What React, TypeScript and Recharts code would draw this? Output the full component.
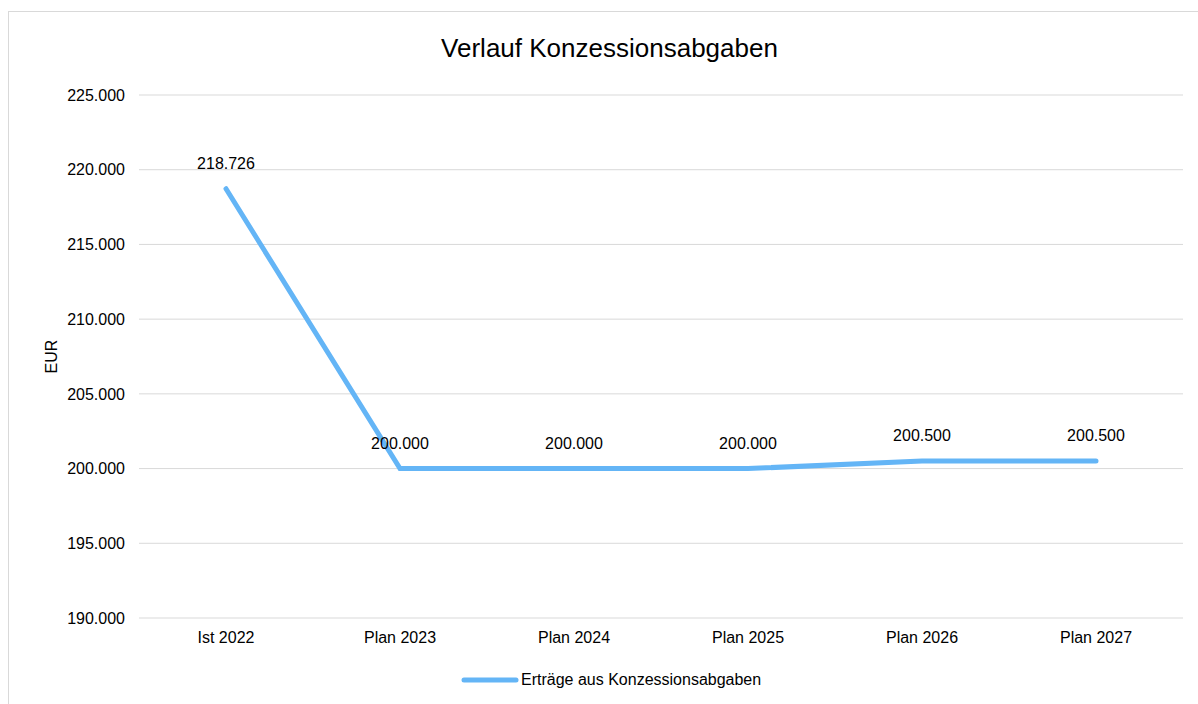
import {CartesianGrid, LabelList, Legend, Line, LineChart, XAxis, YAxis} from "recharts";

const categories = ["Ist 2022", "Plan 2023", "Plan 2024", "Plan 2025", "Plan 2026", "Plan 2027"];
const ertraege = [218726, 200000, 200000, 200000, 200500, 200500];
const yTicks = [190000, 195000, 200000, 205000, 210000, 215000, 220000, 225000];

const seriesName = "Erträge aus Konzessionsabgaben";
const lineColor = "#64B5F6";
const font = "'Liberation Sans', Arial, sans-serif";

const data = categories.map((cat, i) => ({cat, value: ertraege[i]}));

const fmt = (v: number) => Number(v).toLocaleString("de-DE");

const EurLabel = (props: any) => {
    const vb = props.viewBox || {};
    const cx = 42;
    const cy = (vb.y || 0) + (vb.height || 0) / 2;
    return (
        <text x={cx} y={cy} transform={`rotate(-90, ${cx}, ${cy})`} textAnchor="middle"
              dominantBaseline="central" fontSize={16} fontFamily={font} fill="#000">
            EUR
        </text>
    );
};

const LegendContent = (props: any) => {
    const items = props.payload || [];
    return (
        <div style={{display: "flex", alignItems: "center", height: 20, fontFamily: font, fontSize: 16, color: "#000"}}>
            {items.map((it: any) => (
                <div key={it.value} style={{display: "flex", alignItems: "center"}}>
                    <svg width={60} height={20}>
                        <line x1={3} y1={10} x2={55} y2={10} stroke={it.color} strokeWidth={5} strokeLinecap="round"/>
                    </svg>
                    <span>{it.value}</span>
                </div>
            ))}
        </div>
    );
};

export default function App() {
    return (
        <div style={{
            position: "fixed", left: 8, top: 11, width: 1190, height: 693, boxSizing: "border-box",
            borderLeft: "1px solid #d9d9d9", borderTop: "1px solid #d9d9d9", background: "#fff"
        }}>
            <div style={{
                position: "absolute", left: 0, width: 1201, top: 20, textAlign: "center",
                fontFamily: font, fontSize: 26, color: "#000", lineHeight: "32px"
            }}>
                Verlauf Konzessionsabgaben
            </div>
            <LineChart width={1189} height={692} data={data} margin={{top: 83, right: 15, left: 0, bottom: 14}}>
                <CartesianGrid vertical={false} stroke="#d9d9d9"/>
                <XAxis dataKey="cat" axisLine={false} tickLine={false} tickSize={0} tickMargin={14} height={52}
                       padding={{left: 87, right: 87}} interval={0}
                       tick={{fontSize: 16, fontFamily: font, fill: "#000"}}/>
                <YAxis width={130} domain={[190000, 225000]} ticks={yTicks} axisLine={false} tickLine={false}
                       tickSize={0} tickMargin={14} tickFormatter={fmt} interval={0}
                       tick={{fontSize: 16, fontFamily: font, fill: "#000"}}
                       label={<EurLabel/>}/>
                <Legend verticalAlign="bottom" content={<LegendContent/>}
                        wrapperStyle={{left: 452, width: 320}}/>
                <Line type="linear" dataKey="value" name={seriesName} stroke={lineColor} strokeWidth={5}
                      strokeLinecap="round" dot={false} activeDot={false} isAnimationActive={false}>
                    <LabelList dataKey="value" position="top" offset={20} formatter={fmt}
                               style={{fontSize: 16, fontFamily: font, fill: "#000"}}/>
                </Line>
            </LineChart>
        </div>
    );
}
